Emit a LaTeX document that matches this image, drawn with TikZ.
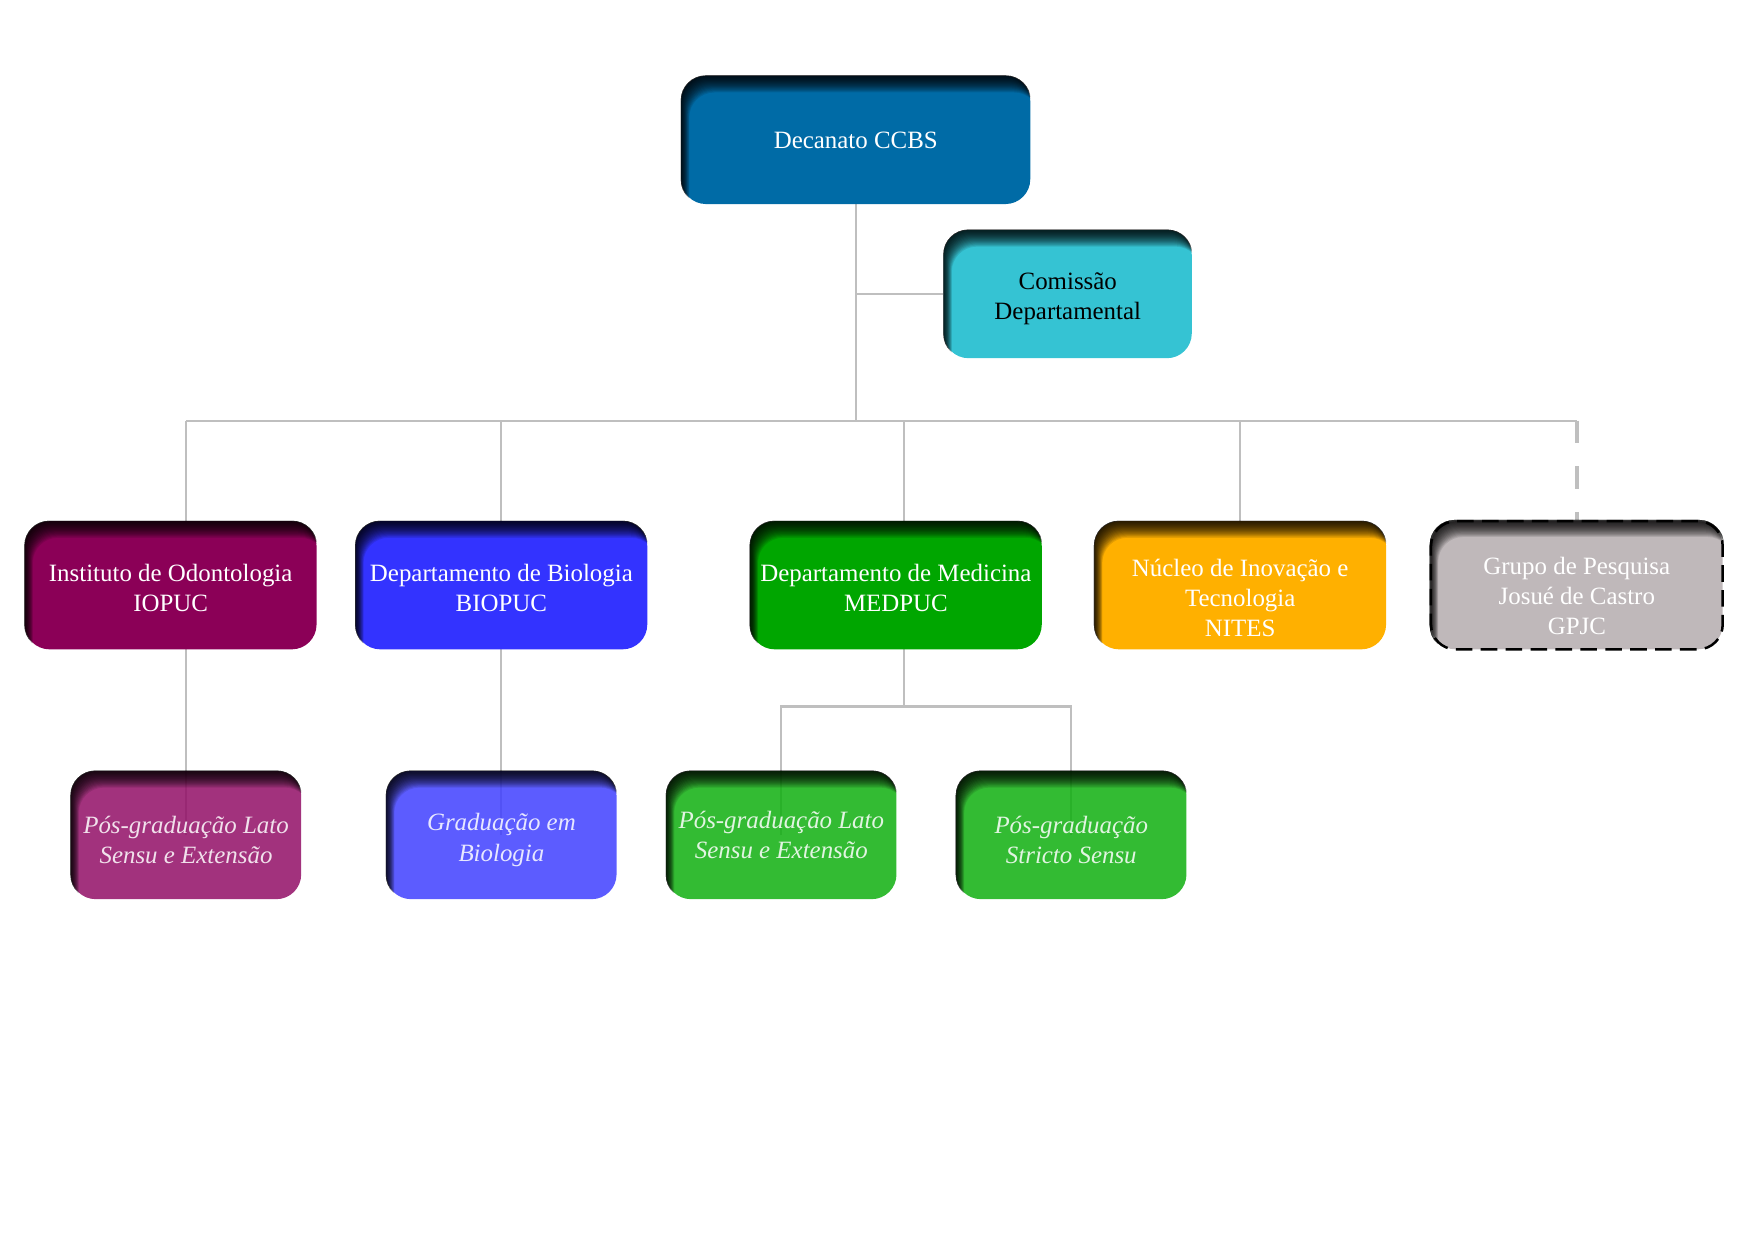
\documentclass[tikz,border=0pt]{standalone}
\usepackage{fontspec}
\setmainfont{Liberation Serif}
\usepackage{tikz}
\usetikzlibrary{arrows.meta, backgrounds, positioning}
\definecolor{decblue}{RGB}{0,107,166}
\definecolor{comcyan}{RGB}{53,195,211}
\definecolor{odopurple}{RGB}{139,0,87}
\definecolor{bioblue}{RGB}{51,51,255}
\definecolor{medgreen}{RGB}{0,166,0}
\definecolor{nitesgold}{RGB}{255,176,0}
\definecolor{gpjcgray}{RGB}{191,184,186}
\definecolor{odosub}{RGB}{146,14,102}
\definecolor{biosub}{RGB}{63,63,255}
\definecolor{medsub}{RGB}{15,175,15}
\definecolor{linegray}{RGB}{191,191,191}
\def\boxr{0.42cm}
\newcommand{\toppad}[1]{\rule{0pt}{#1}}
\tikzstyle{unit} = [rectangle, rounded corners=\boxr, minimum width=4.94cm, minimum height=2.17cm, inner sep=0pt, align=center, text=white]
\tikzstyle{subunit} = [unit, minimum width=3.9cm, fill opacity=0.85, font={\fontsize{12pt}{14.5pt}\selectfont\itshape}]
\tikzstyle{link} = [draw=linegray, line width=1pt]
\tikzstyle{dashlink} = [draw=linegray, line width=1.9pt, dash pattern=on 11pt off 11pt]
\tikzset{
  font={\fontsize{12pt}{14.5pt}\selectfont}}
\newcommand{\innershade}[1]{%
  \begin{scope}
    \clip[rounded corners=\boxr] (#1.south west) rectangle (#1.north east);
    \foreach \d in {1,...,16}{
      \fill[black, fill opacity=0.1, even odd rule, rounded corners=\boxr]
        ([shift={(-0.5,-0.5)}]#1.south west) rectangle ([shift={(0.5,0.5)}]#1.north east)
        ([shift={(\d*0.009,-\d*0.018)}]#1.south west) rectangle ([shift={(\d*0.009,-\d*0.018)}]#1.north east);
    }
  \end{scope}}

\begin{document}
\begin{tikzpicture}[node distance = 5.7cm]
    \useasboundingbox (0,0) rectangle (29.7,-21.0);
    \node (decanato) [unit, fill=decblue, minimum width=5.91cm] at (14.49,-2.37) {Decanato CCBS};
    \node (comissao) [unit, fill=comcyan, minimum width=4.2cm, text=black, right of=decanato, xshift=-2.11cm, yshift=-2.61cm] {\toppad{12.9pt}Comissão\\Departamental};
    \node (medpuc) [unit, fill=medgreen, below of=decanato, xshift=0.68cm, yshift=-1.84cm] {\toppad{11.2pt}Departamento de Medicina\\MEDPUC};
    \node (biopuc) [unit, fill=bioblue, left of=medpuc, xshift=-0.98cm] {\toppad{11.2pt}Departamento de Biologia\\BIOPUC};
    \node (iopuc) [unit, fill=odopurple, left of=biopuc, xshift=0.10cm] {\toppad{11.2pt}Instituto de Odontologia\\IOPUC};
    \node (nites) [unit, fill=nitesgold, right of=medpuc, xshift=0.13cm] {\toppad{20.5pt}Núcleo de Inovação e\\Tecnologia\\NITES};
    \node (gpjc) [unit, fill=gpjcgray, draw=black, line width=1.2pt, dash pattern=on 8pt off 4pt, right of=nites] {\toppad{19pt}Grupo de Pesquisa\\Josué de Castro\\GPJC};
    \node (iopos) [subunit, fill=odosub, below of=iopuc, xshift=0.26cm, yshift=1.47cm] {\toppad{13.1pt}Pós-graduação Lato\\Sensu e Extensão};
    \node (gradbio) [subunit, fill=biosub, below of=biopuc, yshift=1.47cm] {\toppad{13.1pt}Graduação em\\Biologia};
    \node (medlato) [subunit, fill=medsub, below of=medpuc, xshift=-1.94cm, yshift=1.47cm] {Pós-graduação Lato\\Sensu e Extensão};
    \node (stricto) [subunit, fill=medsub, below of=medpuc, xshift=2.97cm, yshift=1.47cm] {\toppad{13.1pt}Pós-graduação\\Stricto Sensu};

    \coordinate[below=3.66cm of decanato.south] (hub);
    \coordinate[right=0.14cm of medpuc.north] (medtop);
    \coordinate[right=0.14cm of medpuc.south, yshift=-0.96cm] (medsplit);

    \begin{scope}[on background layer]
    \draw [link] (decanato.south) -- (hub);
    \draw [link] (decanato.south |- comissao) -- (comissao.west);
    \draw [link] (iopos |- hub) -- (gpjc |- hub);
    \draw [link] (iopos |- hub) -- (iopos.center);
    \draw [link] (biopuc |- hub) -- (gradbio.center);
    \draw [link] (medtop |- hub) -- (medsplit);
    \draw [link] (medlato.center) |- (medsplit) -| (stricto.center);
    \draw [link] (nites |- hub) -- (nites.north);
    \draw [dashlink] (gpjc |- hub) -- (gpjc.north);
    \end{scope}

    \foreach \n in {decanato, comissao, iopuc, biopuc, medpuc, nites, gpjc, iopos, gradbio, medlato, stricto}{
      \innershade{\n}
    }
\end{tikzpicture}
\end{document}
